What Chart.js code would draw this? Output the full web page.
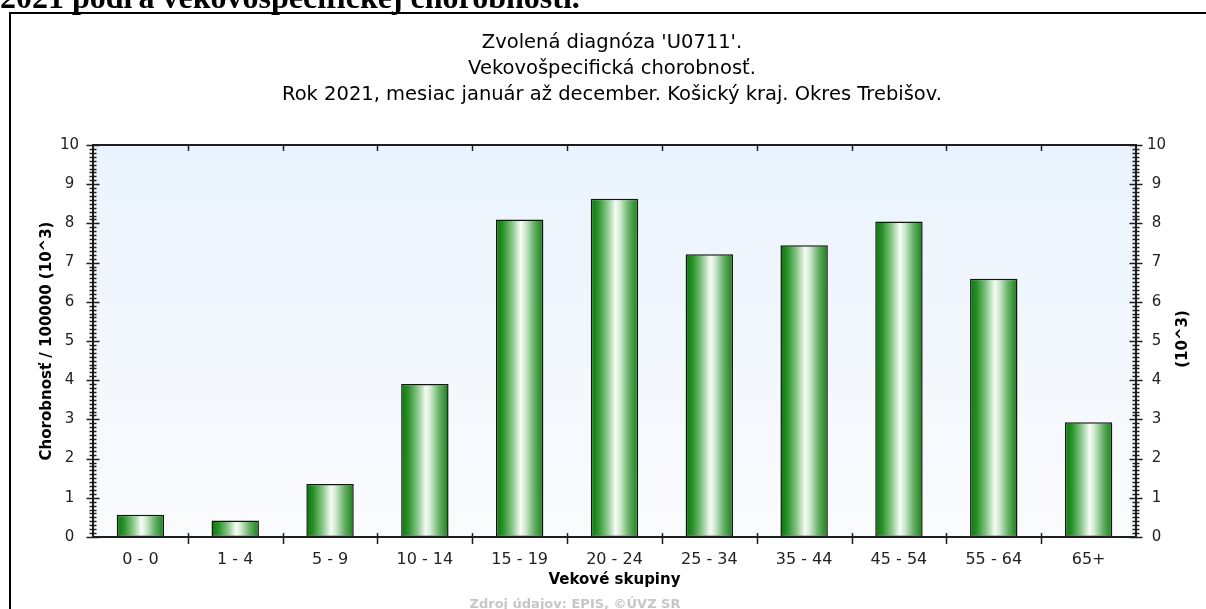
<!DOCTYPE html>
<html>
<head>
<meta charset="utf-8">
<script src="https://cdn.jsdelivr.net/npm/chart.js@4.4.1/dist/chart.umd.min.js"></script>
<style>
  html, body { margin:0; padding:0; background:#fff; width:1206px; height:609px; overflow:hidden; position:relative; }
  #heading { position:absolute; left:0; top:-19px; font:bold 32px/32px "Liberation Serif","Times New Roman",serif; white-space:nowrap; z-index:3; color:#000; }
  #frame { position:absolute; left:9px; top:12px; width:1300px; height:700px; border-top:2px solid #000; border-left:2px solid #000; box-sizing:border-box; }
  #wrap { position:absolute; left:0; top:0; width:1206px; height:609px; }
  #source { position:absolute; left:375px; width:400px; top:596px; text-align:center; font:bold 13px "DejaVu Sans",sans-serif; color:#c6c6c6; white-space:nowrap; }
</style>
</head>
<body>
<div id="heading">2021 podľa vekovošpecifickej chorobnosti.</div>
<div id="frame"></div>
<div id="wrap"><canvas id="c" width="1206" height="609"></canvas></div>
<div id="source">Zdroj údajov: EPIS, ©ÚVZ SR</div>
<script>
// ---- data ----
const categories = ['0 - 0', '1 - 4', '5 - 9', '10 - 14', '15 - 19', '20 - 24', '25 - 34', '35 - 44', '45 - 54', '55 - 64', '65+'];
const values = [0.57, 0.42, 1.35, 3.90, 8.10, 8.63, 7.21, 7.44, 8.05, 6.59, 2.93];
const titleLines = ["Zvolená diagnóza 'U0711'.", "Vekovošpecifická chorobnosť.", "Rok 2021, mesiac január až december. Košický kraj. Okres Trebišov."];
const xTitle = 'Vekové skupiny';
const yTitle = 'Chorobnosť / 100000 (10^3)';
const y2Title = '(10^3)';
const yMin = 0, yMax = 10, yStep = 1, yMinorStep = 0.1;

const FONT = '"DejaVu Sans", Verdana, sans-serif';

function barGradient(c) {
  const chart = c.chart;
  const xs = chart.scales && chart.scales.x;
  if (!xs || c.dataIndex === undefined) return '#2a932a';
  const cx = xs.getPixelForValue(c.dataIndex);
  const half = xs.width / categories.length * 0.25;
  if (!isFinite(cx) || !isFinite(half) || half <= 0) return '#2a932a';
  const g = chart.ctx.createLinearGradient(cx - half, 0, cx + half, 0);
  g.addColorStop(0.00, '#08750a');
  g.addColorStop(0.15, '#2a922a');
  g.addColorStop(0.35, '#8cc88c');
  g.addColorStop(0.52, '#f6fcf6');
  g.addColorStop(0.62, '#d0e9d0');
  g.addColorStop(0.80, '#68b168');
  g.addColorStop(1.00, '#157f15');
  return g;
}

const decor = {
  id: 'decor',
  beforeDraw(chart) {
    const { ctx, chartArea: a } = chart;
    const g = ctx.createLinearGradient(0, a.top, 0, a.bottom);
    g.addColorStop(0, '#eaf3fd');
    g.addColorStop(1, '#fafbfd');
    ctx.save();
    ctx.fillStyle = g;
    ctx.fillRect(a.left, a.top, a.right - a.left, a.bottom - a.top);
    ctx.restore();
  },
  afterDraw(chart) {
    const { ctx, chartArea: a, scales } = chart;
    const y = scales.y, x = scales.x;
    ctx.save();
    ctx.strokeStyle = '#1e1e1e';
    ctx.lineWidth = 1.5;
    const n = Math.round((yMax - yMin) / yMinorStep);
    const every = Math.round(yStep / yMinorStep);
    ctx.beginPath();
    for (let i = 0; i <= n; i++) {
      const v = yMin + i * yMinorStep;
      const py = Math.round(y.getPixelForValue(v)) + 0.5;
      const h = (i % every === 0) ? 6.5 : 3.5;
      ctx.moveTo(a.left - h, py); ctx.lineTo(a.left + h, py);
      ctx.moveTo(a.right - h, py); ctx.lineTo(a.right + h, py);
    }
    for (let k = 0; k < categories.length - 1; k++) {
      const px = Math.round((x.getPixelForValue(k) + x.getPixelForValue(k + 1)) / 2) + 0.5;
      ctx.moveTo(px, a.bottom - 4); ctx.lineTo(px, a.bottom + 7);
      ctx.moveTo(px, a.top); ctx.lineTo(px, a.top + 6);
    }
    ctx.stroke();
    ctx.lineWidth = 2;
    ctx.strokeRect(a.left, a.top, a.right - a.left, a.bottom - a.top);
    ctx.fillStyle = '#000';
    ctx.font = 'bold 15px ' + FONT;
    ctx.textAlign = 'center';
    ctx.textBaseline = 'middle';
    ctx.translate(1183, 339);
    ctx.rotate(-Math.PI / 2);
    ctx.fillText(y2Title, 0, 0);
    ctx.restore();
  }
};

new Chart(document.getElementById('c'), {
  type: 'bar',
  data: {
    labels: categories,
    datasets: [{
      data: values,
      backgroundColor: barGradient,
      borderColor: '#141414',
      borderWidth: 1.5,
      borderSkipped: false,
      barPercentage: 0.5,
      categoryPercentage: 1.0,
      yAxisID: 'y'
    }]
  },
  options: {
    responsive: false,
    animation: false,
    devicePixelRatio: 1,
    layout: { padding: { left: 18, right: 0, top: 30, bottom: 0 } },
    plugins: {
      legend: { display: false },
      tooltip: { enabled: false },
      title: {
        display: true,
        text: titleLines,
        color: '#000',
        font: { family: FONT, size: 19.5, weight: 'normal', lineHeight: 26 / 19.5 },
        padding: { top: 0, bottom: 37 }
      }
    },
    scales: {
      x: {
        type: 'category',
        offset: true,
        grid: { display: false, drawTicks: false },
        border: { display: false },
        ticks: { color: '#222', font: { family: FONT, size: 16 }, padding: 13, maxRotation: 0, autoSkip: false },
        title: { display: true, text: xTitle, color: '#000', font: { family: FONT, size: 15, weight: 'bold', lineHeight: 1.2 }, padding: { top: 0, bottom: 20 } },
        afterFit(s) { s.height = 72; }
      },
      y: {
        type: 'linear',
        position: 'left',
        min: yMin, max: yMax,
        grid: { display: false, drawTicks: false },
        border: { display: false },
        ticks: { stepSize: yStep, color: '#222', font: { family: FONT, size: 15 }, padding: 14, crossAlign: 'center' },
        title: { display: true, text: yTitle, color: '#000', font: { family: FONT, size: 15, weight: 'bold', lineHeight: 1.2 }, padding: { top: 20, bottom: 0 } },
        afterFit(s) { s.width = 75; }
      },
      y2: {
        type: 'linear',
        position: 'right',
        min: yMin, max: yMax,
        grid: { display: false, drawTicks: false },
        border: { display: false },
        ticks: { stepSize: yStep, color: '#222', font: { family: FONT, size: 15 }, padding: 11, crossAlign: 'center' },
        afterFit(s) { s.width = 70; }
      }
    }
  },
  plugins: [decor]
});
</script>
</body>
</html>
